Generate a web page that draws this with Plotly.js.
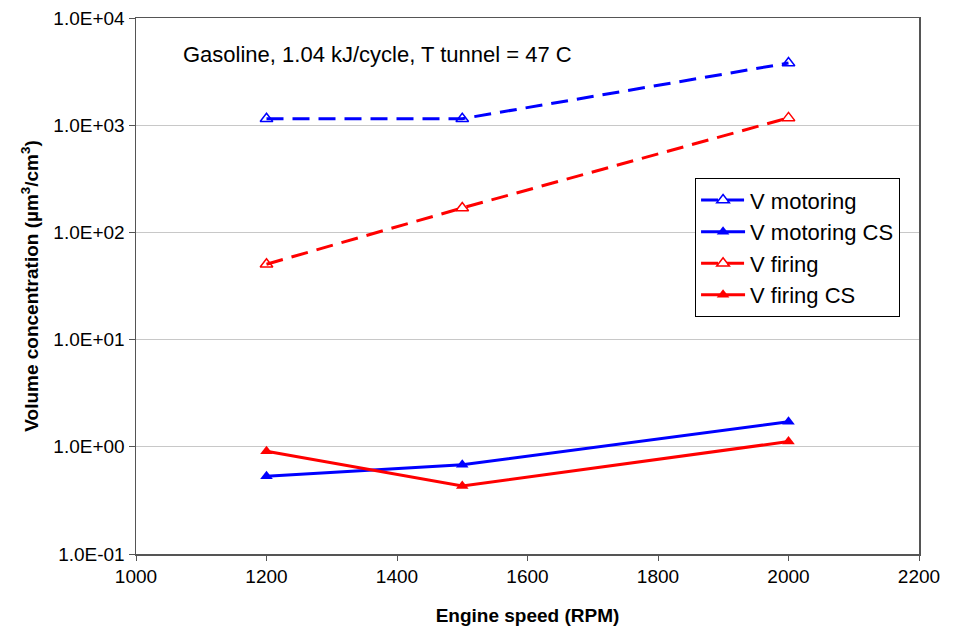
<!DOCTYPE html>
<html>
<head>
<meta charset="utf-8">
<script src="https://cdn.plot.ly/plotly-3.0.1.min.js"></script>
<style>html,body{margin:0;padding:0;background:#fff;}#chart{width:954px;height:629px;}</style>
</head>
<body>
<div id="chart"></div>
<script>
const rpm = [1200, 1500, 2000];
const vMotoring = [1150, 1150, 3800];
const vMotoringCS = [0.53, 0.68, 1.71];
const vFiring = [50.5, 169, 1170];
const vFiringCS = [0.91, 0.43, 1.12];
const yTickVals = [0.1, 1, 10, 100, 1000, 10000];
const yTickText = ['1.0E-01', '1.0E+00', '1.0E+01', '1.0E+02', '1.0E+03', '1.0E+04'];
const xTickVals = [1000, 1200, 1400, 1600, 1800, 2000, 2200];

const font = 'Liberation Sans, Arial, sans-serif';
const traces = [
  {x: rpm, y: vMotoring, name: 'V motoring', mode: 'lines+markers',
   line: {color: '#0000FF', width: 3, dash: '17px,9px'},
   marker: {symbol: 'triangle-up-open', size: 11, color: '#0000FF', line: {width: 1.5}}},
  {x: rpm, y: vMotoringCS, name: 'V motoring CS', mode: 'lines+markers',
   line: {color: '#0000FF', width: 3},
   marker: {symbol: 'triangle-up', size: 11, color: '#0000FF'}},
  {x: rpm, y: vFiring, name: 'V firing', mode: 'lines+markers',
   line: {color: '#FF0000', width: 3, dash: '17px,9px'},
   marker: {symbol: 'triangle-up-open', size: 11, color: '#FF0000', line: {width: 1.5}}},
  {x: rpm, y: vFiringCS, name: 'V firing CS', mode: 'lines+markers',
   line: {color: '#FF0000', width: 3},
   marker: {symbol: 'triangle-up', size: 11, color: '#FF0000'}}
];

const layout = {
  width: 954, height: 629,
  margin: {l: 136, r: 35, t: 18, b: 75},
  paper_bgcolor: '#fff', plot_bgcolor: '#fff',
  font: {family: font, size: 19, color: '#000'},
  showlegend: true,
  legend: {x: 0.714, y: 0.701, xanchor: 'left', yanchor: 'top',
    bordercolor: '#000', borderwidth: 1, bgcolor: '#fff',
    font: {family: font, size: 22, color: '#000'}, tracegroupgap: 0, itemwidth: 44},
  xaxis: {type: 'linear', range: [1000, 2200], tickvals: xTickVals,
    showgrid: false, zeroline: false, showline: true, linecolor: '#555', linewidth: 1.5,
    mirror: true, ticks: 'outside', ticklen: 5, tickcolor: '#555',
    tickfont: {family: font, size: 19},
    title: {text: '<b>Engine speed (RPM)</b>', font: {family: font, size: 19}, standoff: 22}},
  yaxis: {type: 'log', range: [-1, 4], tickvals: yTickVals, ticktext: yTickText,
    showgrid: true, gridcolor: '#c8c8c8', gridwidth: 1, zeroline: false,
    showline: true, linecolor: '#555', linewidth: 1.5, mirror: true,
    ticks: 'outside', ticklen: 6, tickcolor: '#555',
    tickfont: {family: font, size: 19},
    title: {text: '<b>Volume concentration (µm<sup>3</sup>/cm<sup>3</sup>)</b>', font: {family: font, size: 19}, standoff: 9}},
  annotations: [{xref: 'paper', yref: 'paper', x: 0.057, y: 0.931, xanchor: 'left', yanchor: 'middle',
    text: 'Gasoline, 1.04 kJ/cycle, T tunnel = 47 C', showarrow: false,
    font: {family: font, size: 22, color: '#000'}}]
};

Plotly.newPlot('chart', traces, layout, {displayModeBar: false, staticPlot: true});
</script>
</body>
</html>
